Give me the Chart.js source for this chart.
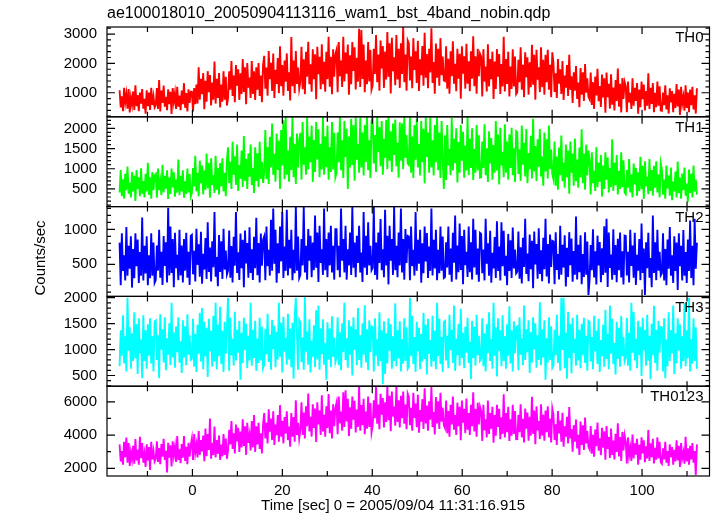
<!DOCTYPE html>
<html>
<head>
<meta charset="utf-8">
<script src="https://cdn.jsdelivr.net/npm/chart.js@4.4.0/dist/chart.umd.min.js"></script>
<style>
  html, body { margin: 0; padding: 0; background: #fff; }
  canvas { display: block; }
</style>
</head>
<body>
<canvas id="lc" width="717" height="516"></canvas>
<script>
// light curve time span (sec from 2005/09/04 11:31:16.915)
const T_START = -16.2;
const T_END = 112.2;

const bandNames = ['TH0', 'TH1', 'TH2', 'TH3', 'TH0123'];
const bandColors = ['#ff0000', '#00ff00', '#0000ff', '#00ffff', '#ff00ff'];

// counts/sec (32 values per row ~ 8 sec)
const th0 = [
  1086,498,876,372,1170,666,960,456,1128,330,834,582,1044,414,1254,540,918,372,1002,624,1128,456,792,288,1086,540,1002,414,1170,582,876,498,
  570,1158,444,1430,360,1074,654,1242,528,864,402,1116,612,1032,276,1158,696,990,444,1200,528,906,402,1074,612,1326,486,990,360,1116,654,1032,
  1032,360,1158,612,1280,630,1865,760,1475,955,1670,435,1410,695,1735,1020,1605,565,1345,760,2060,630,1475,825,1670,500,1280,695,1735,760,1540,565,
  820,1730,1100,2080,890,1590,680,1940,1240,1800,750,1660,960,2150,1030,1870,610,2010,1170,1520,820,2080,960,1730,750,1870,1100,2010,890,1590,680,1940,
  2260,1140,1860,900,2420,1460,2020,1060,2340,820,1780,1300,2180,980,2580,1220,1940,900,2100,1380,2340,1060,1700,740,2900,1220,2100,980,2420,1300,1860,1140,
  1375,2565,1120,2140,950,2395,1545,2735,1290,1970,1035,2480,1460,2310,780,2565,1630,2225,1120,2650,1290,2055,1035,2395,1460,2905,1205,2225,950,2480,1545,2310,
  2460,1020,2730,1560,2100,1200,2910,1380,2370,1650,2640,930,2280,1290,2730,1740,2550,1110,2190,1380,3180,1200,3140,1470,2640,1020,2100,1290,2730,1380,2460,1110,
  1260,2495,1640,2970,1355,2305,1070,2780,1830,2590,1165,2400,1450,3065,1545,2685,975,2875,1735,2210,1260,2970,1450,2495,1165,2685,1640,3250,1355,2305,1070,2780,
  2680,1420,2230,1150,2860,1780,2410,1330,2770,1060,2140,1600,2590,1240,3040,1510,2320,1150,2500,1690,3200,1330,2050,970,2680,1510,2500,1240,2860,1600,2230,1420,
  1395,2585,1140,2160,970,2415,1565,2755,1310,1990,1055,2500,1480,2330,800,2585,1650,2245,1140,2670,1310,2075,1055,2415,1480,2925,1225,2245,970,2500,1565,2330,
  2230,870,2485,1380,1890,1040,2655,1210,2145,1465,2400,785,2060,1125,2485,1550,2315,955,1975,1210,2910,1040,2145,1295,2400,870,1890,1125,2485,1210,2230,955,
  1020,2125,1360,2550,1105,1955,850,2380,1530,2210,935,2040,1190,2635,1275,2295,765,2465,1445,1870,1020,2550,1190,2125,935,2295,1360,2465,1105,1955,850,2380,
  2010,1030,1660,820,2150,1310,1800,960,2080,750,1590,1170,1940,890,2290,1100,1560,650,1700,1070,1910,790,1350,510,1840,930,1700,720,1980,1000,1490,860,
  775,1685,580,1360,450,1555,905,1815,710,1230,515,1620,840,1490,320,1685,850,1305,460,1630,590,1175,395,1435,720,1825,525,1305,330,1500,785,1370,
  1220,340,1385,670,1000,450,1495,560,1165,725,1330,285,1110,505,1385,780,1275,395,1055,560,1660,450,1165,615,1330,340,1000,505,1385,560,1220,395,
  386,1010,578,1250,434,914,290,1154,674,1058,338,962,482,1298,530,1106,242,1202,626,866,386,1250,482,1010,338,1106,578,1202,434,914,290,1154
];
const th1 = [
  410,965,320,740,260,875,470,1055,380,650,290,920,440,830,200,965,500,785,320,1010,380,695,290,875,440,1145,350,785,260,920,470,830,
  870,280,1005,470,690,345,1095,410,825,505,960,250,780,375,1005,535,915,310,735,410,1230,345,825,440,960,280,690,375,1005,410,870,310,
  400,1020,560,1320,440,900,320,1200,640,1080,360,960,480,1380,520,1140,280,1260,600,840,400,1320,480,1020,360,1140,560,1260,440,900,320,1200,
  1530,650,1170,500,1670,850,1310,600,1600,450,1090,750,1450,550,1810,700,1240,500,1380,800,1600,600,1020,400,1530,700,1380,550,1670,750,1170,650,
  910,1960,740,1540,620,1790,1030,2120,850,1370,680,1870,970,1700,500,1960,1080,2200,740,2280,850,1450,680,1790,970,2280,790,1620,620,1870,1030,1700,
  1890,730,2160,1100,1530,850,2280,980,1800,1160,2070,670,1710,920,2160,1230,1980,790,1620,980,2280,850,1800,1040,2070,730,1530,920,2160,980,1890,790,
  900,1895,1160,2280,965,1705,770,2180,1290,1990,500,1800,1030,2230,1095,2085,705,2275,1225,1610,900,2260,1030,1895,835,2085,1160,2275,965,1705,770,2180,
  2250,1130,1835,920,2280,1410,2025,1060,2180,850,1740,1270,2215,990,2280,1200,1930,920,2120,1340,2220,1060,1645,780,2150,1200,2120,990,2280,1270,1835,1130,
  1095,2275,900,1800,770,2085,1225,2240,1030,1610,835,2180,1160,1990,640,2275,1290,1895,900,2270,1030,1705,835,2085,1160,2280,965,1895,770,2180,1225,500,
  1830,720,2085,1080,1490,840,2255,960,1745,1140,2000,660,1660,900,2085,1200,1915,780,1575,960,2280,840,1745,1020,2000,720,1490,900,2085,960,1830,780,
  790,1675,1020,2100,840,1505,670,1930,1130,1760,730,1590,900,2185,960,1845,610,2015,1080,1420,790,2100,900,1675,730,1845,1020,2015,840,1505,670,1930,
  1900,870,1475,700,2070,1100,1645,810,1985,640,1390,990,1815,760,2240,930,1560,700,1730,1050,1985,810,1305,580,1900,930,1730,760,2070,990,1475,870,
  740,1675,580,1300,480,1525,840,1825,690,1150,530,1600,790,1450,380,1675,900,1375,580,1750,690,1225,530,1525,790,1975,640,1375,480,1600,840,1450,
  1210,360,1405,640,950,450,1535,540,1145,680,1340,310,1080,500,1405,730,1275,410,1015,540,1730,450,1145,590,1340,360,950,500,1405,540,1210,410,
  370,965,530,1240,410,855,290,1130,610,1020,330,910,450,1295,490,1075,250,1185,570,800,370,1240,450,965,330,1075,530,1185,410,855,290,1130,
  980,360,730,260,1080,510,830,330,1030,220,680,440,930,290,1180,400,780,260,880,470,1030,330,630,180,980,400,880,290,1080,440,730,360
];
const th2 = [
  810,200,945,404,630,268,1035,336,765,438,900,166,720,302,945,472,855,234,675,336,1170,268,765,370,900,200,630,302,945,336,810,234,
  273,770,409,995,307,680,205,905,477,815,239,1310,341,1040,375,860,171,950,443,635,273,995,341,770,239,860,409,950,307,680,205,905,
  920,356,695,254,1010,492,785,322,965,220,650,424,875,288,1100,390,740,254,830,458,1250,322,605,186,920,390,830,288,1010,424,695,356,
  410,985,308,760,240,895,478,1250,376,670,274,940,444,850,172,985,512,805,308,1030,376,715,274,895,444,1165,342,805,240,940,478,850,
  898,270,1042,474,706,338,1138,406,1300,508,994,236,802,372,1042,542,1250,304,754,406,1282,338,850,440,994,270,706,372,1320,406,898,304,
  348,860,484,1320,382,764,280,1004,552,908,314,812,416,1200,450,956,246,1052,518,716,348,1300,416,860,314,956,484,1052,382,764,280,1004,
  1004,416,764,314,1300,552,860,382,1052,280,716,484,956,348,1320,450,812,314,908,518,1052,382,668,246,1250,450,908,348,1100,484,764,416,
  450,1320,348,812,280,956,518,1148,416,716,314,1280,484,908,212,1052,552,860,348,1320,416,764,314,956,484,1300,382,860,280,1004,518,908,
  898,270,1042,474,706,338,1250,406,850,508,994,236,802,372,1042,542,946,304,754,406,1300,338,850,440,994,270,706,372,1042,406,898,304,
  318,815,454,1040,352,725,250,950,522,1200,284,770,386,1085,420,905,216,995,488,680,318,1040,386,815,284,1150,454,995,352,725,250,950,
  935,371,710,269,1150,507,800,337,980,235,665,439,890,303,1115,405,755,269,1100,473,980,337,620,201,935,405,845,303,1025,439,710,371,
  395,970,293,745,225,880,463,1150,361,655,259,925,429,835,157,970,497,790,293,1015,361,700,259,880,429,1150,327,790,225,925,463,835,
  825,215,960,419,645,283,1050,351,780,453,915,181,735,317,960,487,870,249,690,351,1185,283,780,385,915,215,645,317,960,351,825,60,
  278,775,414,1000,312,685,210,910,482,820,244,730,346,1045,380,1150,176,955,448,640,278,1000,346,775,244,865,414,955,312,685,210,910,
  905,341,680,239,995,477,770,307,950,205,635,409,860,273,1085,375,725,60,815,443,950,307,590,171,1200,375,815,273,995,409,680,341,
  370,945,268,720,200,855,438,1035,336,630,234,900,404,810,132,945,472,765,268,990,336,675,234,855,404,1125,302,765,200,1150,438,810
];
const th3 = [
  680,1370,880,1660,730,1254,580,2000,980,1428,630,1312,780,1718,830,1486,530,1602,930,1196,450,1660,780,1370,630,1486,880,1602,730,1254,580,1544,
  1564,800,1274,450,1680,1000,1390,750,1622,600,1216,900,1506,700,1900,850,1332,650,1448,950,1622,750,1158,550,1564,850,1448,700,1680,900,1274,800,
  820,1592,670,1302,570,1476,920,1708,770,1800,620,1534,870,1418,470,1592,970,1360,670,1650,770,1900,620,1476,870,1824,720,1360,570,1534,920,1418,
  2000,590,1612,890,1206,690,1728,790,1380,940,1554,420,1322,740,1612,990,1496,640,1264,790,1902,690,1380,840,1554,590,1206,740,1612,790,1438,640,
  710,1400,910,1690,760,1284,610,1574,1010,1458,660,1342,810,1900,860,1516,560,1632,960,1226,710,1690,810,1400,660,1516,440,1632,2000,1284,610,1574,
  1524,760,1234,610,2020,960,1350,710,1582,560,1176,860,1466,660,1756,810,1850,610,1408,910,1582,710,1118,420,1524,810,1408,660,1640,860,1234,760,
  850,1622,700,1332,600,1506,950,1900,800,1216,650,1564,900,1448,500,1622,1000,1390,700,1800,800,1274,650,1506,900,1854,750,1390,600,1564,950,1448,
  1428,580,1602,880,1196,680,1718,780,1370,330,1544,530,1312,730,1602,980,1486,630,1254,780,1892,680,1370,830,1544,580,1196,730,1602,780,1428,630,
  670,2000,870,1650,720,1244,570,1534,970,1418,620,1302,770,1708,820,1476,520,1592,920,1186,670,1650,770,1360,620,1900,870,1592,720,1244,570,1534,
  1554,790,1264,640,1670,990,1380,740,1850,590,1206,890,1496,690,1786,840,1322,640,1438,940,1612,740,1148,430,1554,840,1438,690,1670,890,1264,790,
  830,1602,680,1312,580,1486,930,1718,780,1196,630,1900,880,1428,480,1602,980,1370,680,1660,780,1254,630,1486,880,1834,730,1370,580,1544,930,1428,
  1448,600,1622,900,1216,700,1850,800,1390,950,1564,550,1332,750,1622,1000,1506,650,1274,800,1912,700,1390,850,1564,420,1216,750,1622,800,1448,650,
  690,1380,890,1670,740,1264,590,2000,990,2000,640,1322,440,1728,840,1496,540,1612,940,1206,690,1670,790,1380,640,1496,890,1612,740,1264,590,1554,
  1534,770,1244,620,1650,970,1360,720,1592,570,1186,870,1476,670,1766,820,1302,620,1850,920,1592,720,1128,520,1534,820,1418,670,1650,870,1244,770,
  840,1612,690,1322,590,1900,940,1728,790,1206,640,1554,890,1438,490,1612,990,1380,690,1670,790,1264,430,1496,890,1844,740,1380,590,1554,940,1438,
  1428,580,1602,450,1196,680,1718,780,1370,930,1850,530,1312,730,1602,980,1486,630,1254,780,1892,680,1370,830,2000,580,1196,730,1602,780,1428,630
];
const th0123 = [
  3440,2410,3040,2215,3600,2670,3850,2345,3520,2150,2960,2540,3360,2280,3760,2475,3120,2215,3900,2605,3520,2345,2880,2085,3440,2475,3280,1900,3600,2540,3040,2410,
  2575,3620,2380,3220,2250,3460,2705,3780,2510,3060,1750,3540,2640,3380,2120,3620,2770,3300,2380,3950,2510,3140,2315,3460,2640,3940,2445,3300,2250,3540,2705,3380,
  3790,2500,4060,2950,3430,2650,4240,2800,3700,3025,3970,2425,4400,2725,4060,3100,5000,2575,3520,2800,4510,2650,3700,2875,3970,2500,3430,2725,4060,2800,3790,2575,
  3080,4325,3440,4850,3170,4115,2900,4640,3620,4430,2990,4220,3260,4955,3350,4535,2810,4745,3530,4010,3080,4850,3260,5200,2990,4535,3440,4745,3170,4115,2900,4640,
  5320,3800,4745,3500,5550,4200,4975,3700,5435,3400,4630,4000,5205,3600,5800,3900,4860,3500,5090,4100,5435,3700,4515,3300,5320,3900,5090,3600,6100,4000,4745,3800,
  4325,5975,4010,5350,3800,5725,4535,6500,4220,5100,3905,5850,4430,5600,3590,5975,4640,5475,4010,6400,4220,5225,3905,5725,4430,6475,4115,5475,3800,5850,4535,5600,
  5930,4050,6320,4710,5410,4270,6580,4490,6700,4820,6190,3940,5670,4380,6320,4930,6060,4160,5540,4490,6900,4270,5800,4600,6190,4050,5410,4380,6320,4490,5930,4160,
  4570,6100,5010,6940,4680,5840,4350,6490,5230,6230,4460,5970,4790,6940,4900,6360,4240,6620,5120,5710,4570,6940,4790,6100,4460,6360,5010,6620,4680,5840,4350,6490,
  6290,4590,5640,4260,6550,5030,5900,4480,6420,4150,5510,4810,6160,4370,6810,4700,5770,4260,6030,4920,6900,4480,5380,4040,6290,4700,6030,4370,6550,4810,5640,4590,
  4425,6075,4110,5450,3900,5825,4635,6325,4320,5200,4005,5950,4530,5700,3690,6075,4740,5575,4110,6200,4320,5325,4005,5825,4530,6575,4215,5575,3900,5950,4635,5700,
  5450,3650,5825,4280,4950,3860,6075,4070,5325,4385,5700,3545,5200,3965,5825,4490,5575,3755,5075,4070,6450,3860,5325,4175,5700,3650,4950,3965,5825,4070,5450,3755,
  3760,5225,4180,5850,3865,4975,3550,5600,4390,5350,3655,5100,3970,6300,4075,5475,3445,5725,4285,4850,3760,5850,3970,5225,3655,5475,4180,5725,3865,4975,3550,5600,
  5220,3700,4645,3400,5450,4100,4875,3600,5335,3300,4530,3900,5105,3500,5680,3800,4360,3000,4590,3600,4935,3200,4015,2800,4820,3400,4590,3100,5050,3500,4245,3300,
  3150,4545,2880,4020,2700,4335,3330,4755,3060,3810,2790,4440,3240,4230,2520,4545,3170,3875,2630,4400,2810,3665,2540,4085,2990,4715,2720,3875,2450,4190,3080,3980,
  3590,2300,3860,2750,3230,2450,4040,2600,3500,2825,3770,2225,3410,2525,3860,2900,3680,2375,3320,2600,4310,2450,3500,2675,3770,2300,3230,2525,3860,2600,3590,2375,
  2280,3200,2540,3600,2345,3040,2150,3440,2670,3280,2215,3120,2410,3680,2475,3360,2085,3520,2605,2960,2280,3900,2410,3200,2215,3360,2540,3520,2345,3040,1600,3440
];

const bandSeries = [th0, th1, th2, th3, th0123];

// axis setup per panel
const yRanges = [[180, 3240], [62, 2287], [40, 1326], [294, 2025], [1540, 6940]];
const yMajor = [1000, 500, 500, 500, 2000];
const yMinor = [200, 100, 100, 100, 1000];
const xRange = [-19, 115];
const xMajor = 20;
const xMinor = 10;

const titleText = 'ae100018010_20050904113116_wam1_bst_4band_nobin.qdp';
const xTitle = 'Time [sec] 0 = 2005/09/04 11:31:16.915';
const yTitle = 'Counts/sec';

const FAMILY = '"Liberation Sans", Arial, Helvetica, sans-serif';
Chart.defaults.font.family = FAMILY;
Chart.defaults.font.size = 15;
Chart.defaults.color = '#000';

const panelIds = bandNames.map((_, k) => 'y' + k);

const toPoints = (vals) => {
    const dt = (T_END - T_START) / (vals.length - 1);
    return vals.map((v, i) => ({ x: T_START + i * dt, y: v }));
};

// multiples of step inside [min, max]
const stepTicks = (min, max, step) => {
    const out = [];
    for (let v = Math.ceil(min / step) * step; v <= max; v += step) out.push({ value: v });
    return out;
};

// stacked axes are laid out bottom-up, so add TH0 last
const yScales = {};
panelIds.slice().reverse().forEach((id) => {
    const k = panelIds.indexOf(id);
    yScales[id] = {
        type: 'linear',
        position: 'left',
        stack: 'panels',
        stackWeight: 1,
        min: yRanges[k][0],
        max: yRanges[k][1],
        grid: { display: false, drawTicks: false },
        border: { display: false },
        ticks: { autoSkip: false, padding: 10, color: '#000', callback: (v) => String(v) },
        afterBuildTicks: (s) => { s.ticks = stepTicks(s.min, s.max, yMajor[k]); },
        afterFit: (s) => { s.width = 107; }
    };
});

// qdp-style boxes with inward ticks on all sides
const framePlugin = {
    id: 'qdpFrame',
    afterDraw(chart) {
        const ctx = chart.ctx;
        const xs = chart.scales.x;
        const area = chart.chartArea;
        ctx.save();
        ctx.strokeStyle = '#000';
        ctx.fillStyle = '#000';
        ctx.lineWidth = 1.2;
        ctx.font = '15px ' + FAMILY;

        panelIds.forEach((id, k) => {
            const ys = chart.scales[id];
            const top = ys.top, bot = ys.bottom;
            ctx.strokeRect(area.left, top, area.right - area.left, bot - top);

            ctx.beginPath();
            stepTicks(ys.min, ys.max, yMinor[k]).forEach(({ value }) => {
                const py = ys.getPixelForValue(value);
                const len = value % yMajor[k] === 0 ? 8 : 4;
                ctx.moveTo(area.left, py); ctx.lineTo(area.left + len, py);
                ctx.moveTo(area.right, py); ctx.lineTo(area.right - len, py);
            });
            stepTicks(xs.min, xs.max, xMinor).forEach(({ value }) => {
                const px = xs.getPixelForValue(value);
                const len = value % xMajor === 0 ? 7 : 5;
                ctx.moveTo(px, top); ctx.lineTo(px, top + len);
                ctx.moveTo(px, bot); ctx.lineTo(px, bot - len);
            });
            ctx.stroke();

            ctx.textAlign = 'right';
            ctx.textBaseline = 'middle';
            ctx.fillText(bandNames[k], area.right - 6, top + 11);
        });

        ctx.textAlign = 'center';
        ctx.fillText(xTitle, 393, 506);

        ctx.save();
        ctx.translate(41, 258);
        ctx.rotate(-Math.PI / 2);
        ctx.fillText(yTitle, 0, 0);
        ctx.restore();

        ctx.font = '16px ' + FAMILY;
        ctx.textAlign = 'left';
        ctx.fillText(titleText, area.left, 14);
        ctx.restore();
    }
};

new Chart(document.getElementById('lc').getContext('2d'), {
    type: 'line',
    data: {
        datasets: bandSeries.map((vals, k) => ({
            label: bandNames[k],
            data: toPoints(vals),
            yAxisID: panelIds[k],
            borderColor: bandColors[k],
            borderWidth: 1.9,
            pointRadius: 0,
            tension: 0,
            fill: false
        }))
    },
    options: {
        responsive: false,
        animation: false,
        events: [],
        layout: { padding: { top: 27, right: 7.5, left: 0, bottom: 0 } },
        scales: {
            x: {
                type: 'linear',
                position: 'bottom',
                min: xRange[0],
                max: xRange[1],
                grid: { display: false, drawTicks: false },
                border: { display: false },
                ticks: { autoSkip: false, padding: 6, color: '#000' },
                afterBuildTicks: (s) => { s.ticks = stepTicks(s.min, s.max, xMajor); },
                afterFit: (s) => { s.height = 40; }
            },
            ...yScales
        },
        plugins: { legend: { display: false }, tooltip: { enabled: false }, title: { display: false } }
    },
    plugins: [framePlugin]
});
</script>
</body>
</html>
